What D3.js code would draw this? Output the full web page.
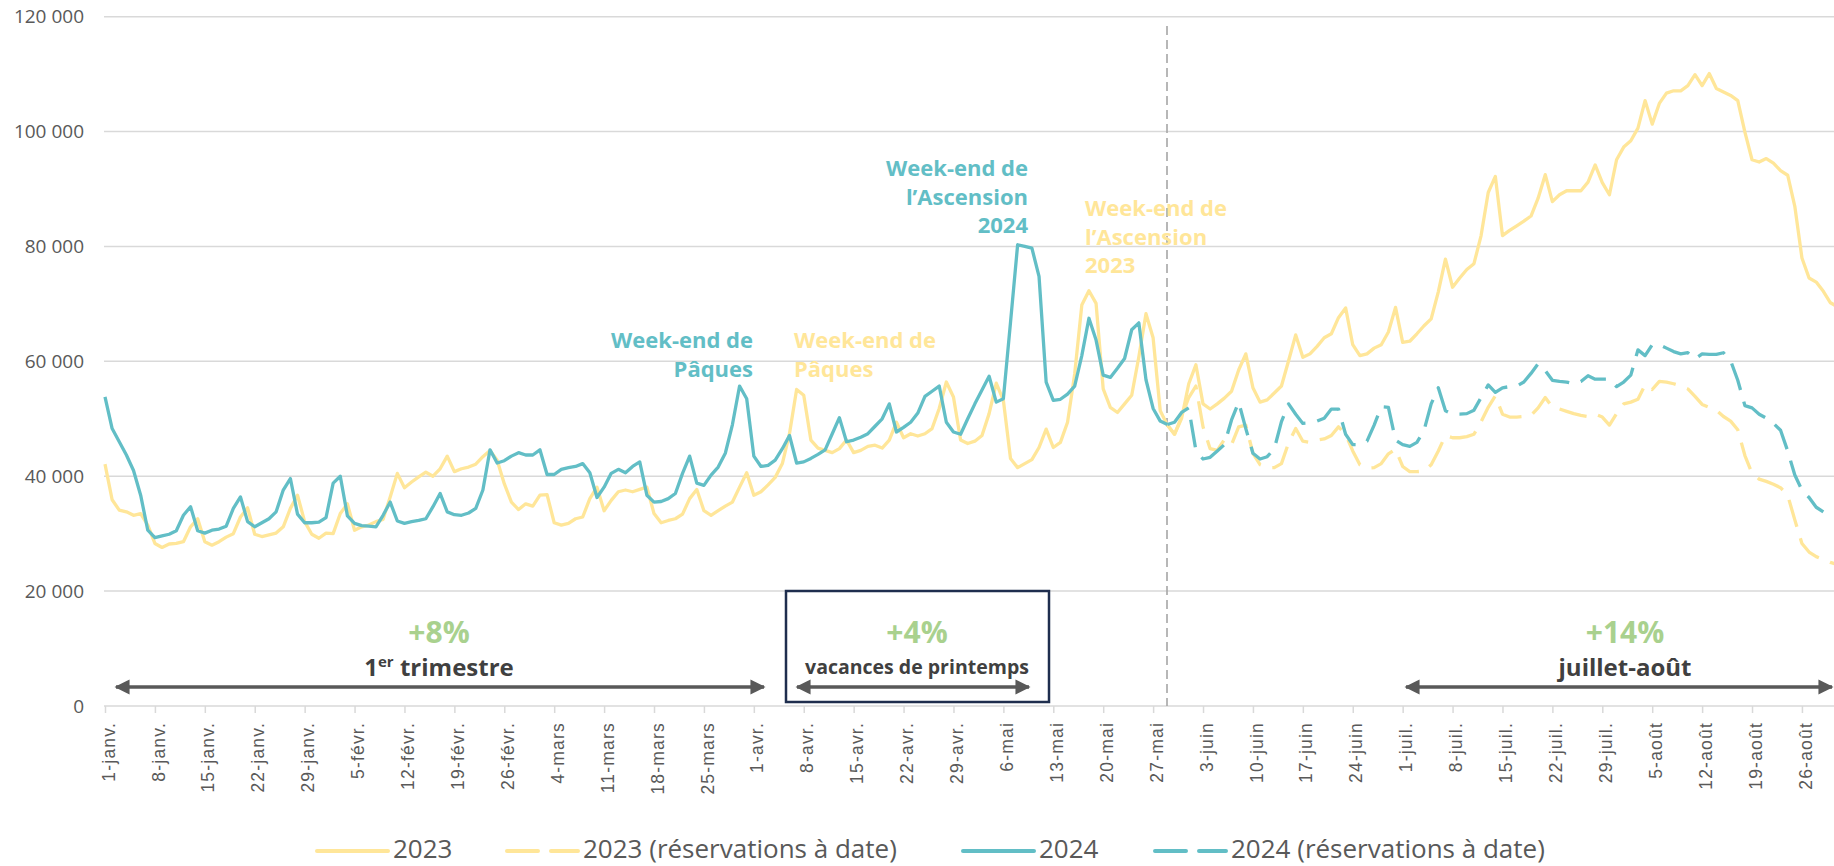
<!DOCTYPE html>
<html>
<head>
<meta charset="utf-8">
<script src="https://cdn.jsdelivr.net/npm/d3@7"></script>
<style>
body { margin: 0; background: #fff; }
svg { display: block; font-family: "Open Sans", sans-serif; }
</style>
</head>
<body>
<div id="chart"></div>
<script>
// tick labels, one every 7 days from 1 Jan
var tickLabels = ["1-janv.", "8-janv.", "15-janv.", "22-janv.", "29-janv.", "5-févr.", "12-févr.", "19-févr.", "26-févr.",
  "4-mars", "11-mars", "18-mars", "25-mars", "1-avr.", "8-avr.", "15-avr.", "22-avr.", "29-avr.", "6-mai", "13-mai",
  "20-mai", "27-mai", "3-juin", "10-juin", "17-juin", "24-juin", "1-juil.", "8-juil.", "15-juil.", "22-juil.", "29-juil.",
  "5-août", "12-août", "19-août", "26-août"];
var yTicks = [0, 20000, 40000, 60000, 80000, 100000, 120000];

// daily values, in thousands (one row = one week)
var ventes2023 = [
  42.1, 35.9, 34.1, 33.8, 33.2, 33.5, 31.5,
  28.3, 27.6, 28.2, 28.3, 28.6, 31.2, 32.6,
  28.6, 28.0, 28.6, 29.4, 30.0, 32.9, 34.5,
  29.9, 29.5, 29.8, 30.1, 31.2, 34.4, 36.7,
  32.1, 29.9, 29.2, 30.1, 30.0, 33.5, 35.2,
  30.6, 31.2, 31.5, 32.1, 32.5, 36.4, 40.5,
  38.0, 39.0, 39.9, 40.7, 40.0, 41.3, 43.5,
  40.8, 41.3, 41.6, 42.1, 43.4, 44.5, 42.8,
  38.7, 35.5, 34.2, 35.2, 34.8, 36.7, 36.8,
  31.9, 31.5, 31.8, 32.6, 32.9, 36.1, 38.1,
  34.0, 35.8, 37.3, 37.6, 37.3, 37.7, 38.1,
  33.5, 31.9, 32.3, 32.6, 33.4, 36.1, 37.7,
  34.0, 33.2, 34.0, 34.8, 35.5, 38.1, 40.6,
  36.7, 37.3, 38.5, 39.8, 42.2, 47.4, 55.1,
  54.1, 46.3, 44.9, 44.5, 44.1, 44.8, 46.3,
  44.1, 44.5, 45.2, 45.4, 44.9, 46.3, 49.4,
  46.7, 47.4, 47.0, 47.4, 48.3, 51.8, 56.4,
  53.8, 46.3, 45.7, 46.1, 47.1, 50.9, 56.2,
  53.2, 43.1, 41.5, 42.2, 42.9, 45.0, 48.2,
  45.0, 45.9, 49.4, 57.8, 69.8, 72.3, 70.1,
  55.2, 52.0, 51.1, 52.6, 54.1, 60.8, 68.3,
  64.1, 51.4, 48.9, 47.3, 50.1, 56.1, 59.4,
  52.6, 51.7, 52.6, 53.6, 54.8, 58.5, 61.3,
  55.4, 52.9, 53.3, 54.5, 55.7, 60.1, 64.6,
  60.7, 61.3, 62.6, 64.1, 64.8, 67.6, 69.3,
  62.9, 61.0, 61.3, 62.3, 62.9, 65.1, 69.4,
  63.3, 63.5, 64.8, 66.2, 67.4, 72.1, 77.8,
  72.9, 74.5, 76.0, 77.0, 81.9, 89.4, 92.2,
  81.9, 82.8, 83.6, 84.4, 85.3, 88.4, 92.5,
  87.8, 89.0, 89.7, 89.7, 89.7, 91.2, 94.2,
  91.1, 89.0, 95.1, 97.3, 98.4, 100.6, 105.4,
  101.3, 104.9, 106.7, 107.1, 107.1, 108.0, 109.9,
  108.0, 110.1, 107.5, 106.9, 106.3, 105.4, 99.9,
  95.1, 94.7, 95.3, 94.5, 93.2, 92.4, 87.0,
  78.0, 74.5, 73.8, 72.2, 70.2, 69.5];

var ventes2024 = [
  53.8, 48.3, 46.0, 43.7, 41.0, 36.7, 30.6,
  29.3, 29.6, 29.9, 30.5, 33.2, 34.7, 30.5,
  30.1, 30.6, 30.8, 31.3, 34.4, 36.4, 32.1,
  31.2, 31.9, 32.6, 33.8, 37.6, 39.6, 33.4,
  31.9, 31.9, 32.0, 32.8, 38.8, 40.0, 33.1,
  31.8, 31.4, 31.3, 31.2, 33.2, 35.5, 32.2,
  31.8, 32.1, 32.3, 32.6, 34.7, 37.0, 33.8,
  33.3, 33.2, 33.6, 34.4, 37.6, 44.6, 42.3,
  42.7, 43.5, 44.1, 43.7, 43.7, 44.6, 40.3,
  40.3, 41.2, 41.5, 41.7, 42.2, 40.6, 36.3,
  38.1, 40.5, 41.2, 40.6, 41.7, 42.5, 36.7,
  35.5, 35.6, 36.1, 37.0, 40.5, 43.5, 38.8,
  38.4, 40.2, 41.6, 44.0, 49.0, 55.7, 53.5,
  43.5, 41.7, 41.9, 42.8, 44.8, 47.1, 42.3,
  42.5, 43.1, 43.8, 44.6, 47.4, 50.2, 46.0,
  46.3, 46.8, 47.4, 48.7, 50.0, 52.6, 47.7,
  48.5, 49.4, 51.0, 53.9, 54.8, 55.7, 49.4,
  47.7, 47.3, 50.0, 52.6, 55.0, 57.4, 52.9,
  53.5, 66.8, 80.3, 80.0, 79.7, 74.8, 56.4,
  53.2, 53.4, 54.3, 55.7, 61.0, 67.5, 63.7,
  57.6, 57.2, 58.8, 60.5, 65.5, 66.7, 56.8,
  51.8, 49.6, 49.0];

// bookings on hand, from day 149 (29 May)
var resaStart = 149;
var resa2023 = [
  48.9, 47.3, 50.4, 53.7, 55.7,
  48.6, 44.8, 44.5, 46.4, 45.5, 48.6, 48.9,
  44.0, 42.0, 41.5, 41.5, 42.2, 45.8, 48.3,
  46.1, 45.9, 46.3, 46.5, 47.1, 48.6, 47.3,
  44.4, 42.0, 41.4, 41.5, 42.2, 43.9, 44.7,
  41.7, 40.8, 40.8, 40.9, 42.0, 44.4, 47.1,
  46.7, 46.7, 46.9, 47.3, 49.5, 52.0, 54.0,
  50.8, 50.3, 50.3, 50.4, 50.6, 51.9, 53.7,
  52.0, 51.7, 51.3, 50.9, 50.6, 50.4, 50.8,
  50.3, 48.9, 50.9, 52.6, 52.9, 53.4, 55.9,
  55.1, 56.5, 56.4, 56.1, 55.7, 55.2, 53.9,
  52.5, 52.0, 51.5, 50.4, 49.6, 48.1, 43.6,
  40.5, 39.5, 39.1, 38.6, 38.0, 36.7, 32.4,
  28.3, 26.8, 26.0, 25.5, 25.0, 24.6];

var resa2024 = [
  49.0, 49.4, 51.1, 51.9, 44.5,
  43.0, 43.3, 44.4, 45.5, 49.8, 52.9, 48.3,
  44.0, 43.0, 43.4, 44.8, 49.5, 52.6, 50.8,
  49.2, 49.3, 49.6, 50.1, 51.7, 51.7, 47.3,
  45.5, 45.5, 46.1, 48.9, 52.1, 52.0, 46.3,
  45.5, 45.2, 45.9, 48.0, 52.6, 55.4, 51.4,
  50.8, 50.8, 50.9, 51.5, 53.7, 55.9, 54.6,
  55.4, 55.6, 55.7, 56.4, 57.9, 59.6, 58.4,
  56.7, 56.5, 56.4, 56.1, 56.5, 57.5, 56.9,
  56.9, 56.9, 55.6, 56.4, 57.6, 62.0, 61.0,
  62.9, 62.9, 62.3, 61.7, 61.3, 61.5, 60.4,
  61.3, 61.2, 61.2, 61.5, 60.1, 56.7, 52.3,
  51.9, 50.8, 50.1, 49.2, 48.0, 44.4, 40.2,
  37.6, 36.3, 34.6, 33.8];

var seriesNames = ["2023", "2023 (réservations à date)", "2024", "2024 (réservations à date)"];

var W = 1834, H = 866;
var yellow = "#FFE699", teal = "#62BEC6", green = "#A9D18E", dark = "#404040", grey = "#595959";

var svg = d3.select("#chart").append("svg").attr("width", W).attr("height", H);

var x = d3.scaleLinear().domain([0, 243]).range([105, 105 + 243 * 7.13]);
var y = d3.scaleLinear().domain([0, 120000]).range([706, 16.7]);
var frFormat = d3.formatLocale({ decimal: ",", thousands: " ", grouping: [3], currency: ["", " €"] }).format(",");

// gridlines
svg.append("g").selectAll("line").data(yTicks).join("line")
  .attr("x1", 104).attr("x2", W).attr("y1", d => y(d)).attr("y2", d => y(d))
  .attr("stroke", "#d9d9d9").attr("stroke-width", 1.5);

// y labels
svg.append("g").attr("transform", "translate(105,0)")
  .call(d3.axisLeft(y).tickValues(yTicks).tickSize(0).tickPadding(21).tickFormat(frFormat))
  .call(g => g.select(".domain").remove())
  .selectAll("text").attr("font-family", "Open Sans").attr("font-size", 19).attr("fill", grey);

// x axis
var xAxis = svg.append("g").attr("transform", "translate(0,706)")
  .call(d3.axisBottom(x).tickValues(tickLabels.map((d, i) => i * 7)).tickSize(7).tickFormat((d, i) => tickLabels[i]));
xAxis.select(".domain").remove();
xAxis.selectAll(".tick line").attr("stroke", "#d9d9d9").attr("stroke-width", 1.5);
xAxis.selectAll(".tick text")
  .attr("font-family", "Liberation Sans").attr("font-size", 17.5).attr("letter-spacing", 1.2).attr("fill", grey)
  .attr("text-anchor", "end").attr("transform", "rotate(-90)")
  .attr("x", -16).attr("y", 3).attr("dy", "0.35em");

// today line
svg.append("line").attr("x1", 1167).attr("x2", 1167).attr("y1", 26).attr("y2", 706)
  .attr("stroke", "#a6a6a6").attr("stroke-width", 1.6).attr("stroke-dasharray", "9,5");

// series
var line = d3.line().x(d => x(d[0])).y(d => y(d[1] * 1000));
function pts(arr, start) { return arr.map((v, i) => [start + i, v]); }

var series = [
  { data: pts(ventes2023, 0), color: yellow, dash: null },
  { data: pts(resa2023, resaStart), color: yellow, dash: "28,12" },
  { data: pts(ventes2024, 0), color: teal, dash: null },
  { data: pts(resa2024, resaStart), color: teal, dash: "28,12" }
];
svg.append("g").selectAll("path").data(series).join("path")
  .attr("d", d => line(d.data))
  .attr("fill", "none").attr("stroke", d => d.color).attr("stroke-width", 3.3)
  .attr("stroke-linejoin", "round")
  .attr("stroke-dasharray", d => d.dash);

// event annotations
function multiline(lines, xPos, yPos, anchor, color) {
  var t = svg.append("text").attr("x", xPos).attr("y", yPos).attr("text-anchor", anchor)
    .attr("font-family", "Open Sans").attr("font-weight", 700).attr("font-size", 22).attr("fill", color);
  lines.forEach((s, i) => t.append("tspan").attr("x", xPos).attr("dy", i ? 28.5 : 0).text(s));
}
multiline(["Week-end de", "Pâques"], 753, 348, "end", teal);
multiline(["Week-end de", "Pâques"], 794, 348, "start", yellow);
multiline(["Week-end de", "l’Ascension", "2024"], 1028, 176, "end", teal);
multiline(["Week-end de", "l’Ascension", "2023"], 1085, 216, "start", yellow);

// period arrows
var defs = svg.append("defs");
defs.append("marker").attr("id", "head").attr("viewBox", "0 0 10 10").attr("refX", 9).attr("refY", 5)
  .attr("markerWidth", 4.3).attr("markerHeight", 4.3).attr("orient", "auto-start-reverse")
  .append("path").attr("d", "M0,0L10,5L0,10Z").attr("fill", grey);

var periods = [
  { pct: "+8%", label: "trimestre", x1: 114, x2: 766, cx: 439, size: 24 },
  { pct: "+4%", label: "vacances de printemps", x1: 795, x2: 1031, cx: 917, size: 19.5 },
  { pct: "+14%", label: "juillet-août", x1: 1404, x2: 1834, cx: 1625, size: 24 }
];
periods.forEach(p => {
  svg.append("line").attr("x1", p.x1 + 2).attr("x2", p.x2 - 2).attr("y1", 687).attr("y2", 687)
    .attr("stroke", grey).attr("stroke-width", 3.5)
    .attr("marker-start", "url(#head)").attr("marker-end", "url(#head)");
  svg.append("text").attr("x", p.cx).attr("y", 643).attr("text-anchor", "middle")
    .attr("font-weight", 700).attr("font-size", 30).attr("fill", green).text(p.pct);
  var t = svg.append("text").attr("x", p.cx).attr("y", p.size > 20 ? 676 : 674).attr("text-anchor", "middle")
    .attr("font-weight", 700).attr("font-size", p.size).attr("fill", dark);
  if (p.label === "trimestre") {
    t.append("tspan").text("1");
    t.append("tspan").attr("font-size", 15).attr("dy", -9).text("er");
    t.append("tspan").attr("dy", 9).text(" trimestre");
  } else {
    t.text(p.label);
  }
});

svg.append("rect").attr("x", 786).attr("y", 591).attr("width", 263).attr("height", 111)
  .attr("fill", "none").attr("stroke", "#1F2E4E").attr("stroke-width", 2.5);

// legend
var legendX = [317, 507, 963, 1155];
var lg = svg.append("g").selectAll("g").data(seriesNames).join("g")
  .attr("transform", (d, i) => "translate(" + legendX[i] + ",851)");
lg.append("line").attr("x1", 0).attr("x2", 71).attr("y1", 0).attr("y2", 0)
  .attr("stroke", (d, i) => i < 2 ? yellow : teal).attr("stroke-width", 4).attr("stroke-linecap", "round")
  .attr("stroke-dasharray", (d, i) => i % 2 ? "31,13" : null);
lg.append("text").attr("x", 76).attr("y", 7).attr("font-size", 26).attr("fill", grey).text(d => d);
</script>
</body>
</html>
